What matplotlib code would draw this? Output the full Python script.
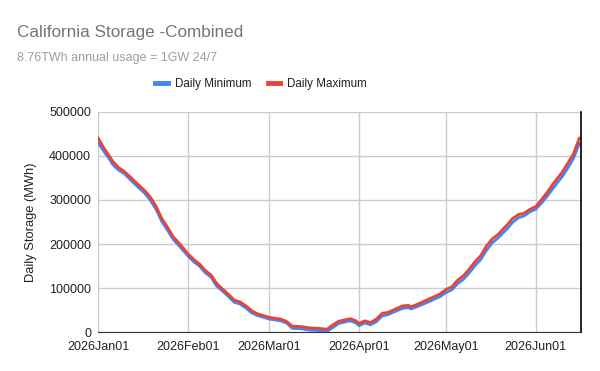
import numpy as np
import matplotlib
matplotlib.use("Agg")
import matplotlib.pyplot as plt
import matplotlib.dates as mdates

plt.rcParams['font.family'] = ['Liberation Sans', 'DejaVu Sans']

# day offsets from 2026-01-01 and storage (MWh)
day_offsets = [0, 2, 4, 5, 7, 9, 11, 13, 16, 18, 20, 22, 24, 26, 28, 31, 33, 35, 37, 39,
               41, 43, 45, 47, 49, 51, 53, 55, 57, 59, 61, 63, 65, 67, 70, 73, 76, 79, 81, 83,
               85, 87, 89, 90, 92, 94, 96, 98, 100, 102, 105, 107, 108, 110, 113, 116, 118, 120, 122, 124,
               126, 128, 130, 132, 134, 136, 138, 141, 143, 145, 147, 149, 151, 153, 155, 157, 160, 162, 164, 166]
daily_max = [441000, 418000, 399000, 388000, 374000, 365000, 353000, 340000, 322000, 307000,
             286000, 258000, 238000, 216000, 202000, 178000, 165000, 155000, 140000, 130000,
             110000, 98000, 86000, 73000, 69000, 60000, 49000, 42000, 38000, 34000,
             32000, 30000, 25000, 14000, 13000, 10000, 9000, 7000, 17000, 25000,
             28000, 31000, 26000, 20000, 26000, 22000, 30000, 43000, 45000, 51000,
             60000, 61000, 58000, 63000, 72000, 81000, 87000, 97000, 103000, 118000,
             128000, 143000, 160000, 174000, 196000, 212000, 222000, 243000, 258000, 267000,
             270000, 279000, 285000, 301000, 318000, 337000, 362000, 383000, 405000, 440000]
daily_min = [431000, 410000, 392000, 381000, 368000, 360000, 347000, 334000, 316000, 300000,
             279000, 251000, 231000, 210000, 196000, 173000, 160000, 150000, 135000, 125000,
             104000, 93000, 81000, 68000, 64000, 55000, 44000, 38000, 34000, 30000,
             28000, 26000, 21000, 9000, 8000, 5000, 4000, 2000, 11000, 20000,
             23000, 26000, 21000, 15000, 21000, 17000, 24000, 37000, 40000, 46000,
             54000, 56000, 53000, 58000, 66000, 75000, 81000, 90000, 96000, 110000,
             120000, 134000, 151000, 165000, 186000, 203000, 214000, 234000, 249000, 260000,
             264000, 273000, 279000, 293000, 309000, 327000, 352000, 372000, 394000, 428000]

dates = np.datetime64('2026-01-01') + np.array(day_offsets).astype('timedelta64[D]')

fig = plt.figure(figsize=(6, 3.71), dpi=100)
ax = fig.add_axes([98 / 600, 1 - 332.3 / 371, (581 - 98) / 600, (332.3 - 111.7) / 371])

ax.plot(dates, daily_min, color='#4285F4', lw=2.0, label='Daily Minimum', solid_joinstyle='round')
ax.plot(dates, daily_max, color='#EA4335', lw=2.0, label='Daily Maximum', solid_joinstyle='round')

ax.set_xlim(np.datetime64('2026-01-01'), np.datetime64('2026-01-01') + np.timedelta64(1999, 'h') * 2)
ax.set_ylim(0, 500000)
ax.set_yticks([0, 100000, 200000, 300000, 400000, 500000])
ax.yaxis.set_major_formatter(matplotlib.ticker.FuncFormatter(lambda v, p: f"{int(v)}"))
ax.xaxis.set_major_locator(mdates.MonthLocator())
ax.xaxis.set_major_formatter(mdates.DateFormatter('%Y%b%d'))

ax.grid(True, color='#cccccc', lw=1)
ax.set_axisbelow(True)
ax.tick_params(length=0, labelsize=9, colors='#222222')
ax.tick_params(axis='x', pad=6)
ax.tick_params(axis='y', pad=5)
for s in ['top', 'left']:
    ax.spines[s].set_visible(False)
ax.spines['bottom'].set_color('#333333')
ax.spines['right'].set_color('#000000')
ax.spines['right'].set_linewidth(1.2)

ax.set_ylabel('Daily Storage (MWh)', fontsize=9.3, color='#222222', labelpad=9)

fig.text(17 / 600, 1 - 32 / 371, 'California Storage -Combined', fontsize=12.3, color='#757575', va='center')
fig.text(17 / 600, 1 - 58 / 371, '8.76TWh annual usage = 1GW 24/7', fontsize=9, color='#9e9e9e', va='center')

leg = fig.legend(loc='center', bbox_to_anchor=(261 / 600, 1 - 84 / 371), ncol=2, frameon=False,
                 fontsize=8.4, handlelength=1.1, handletextpad=0.6, columnspacing=1.4)
for h in leg.legend_handles:
    h.set_linewidth(3.5)
for t in leg.get_texts():
    t.set_color('#222222')

fig.savefig('out.png', dpi=100)
